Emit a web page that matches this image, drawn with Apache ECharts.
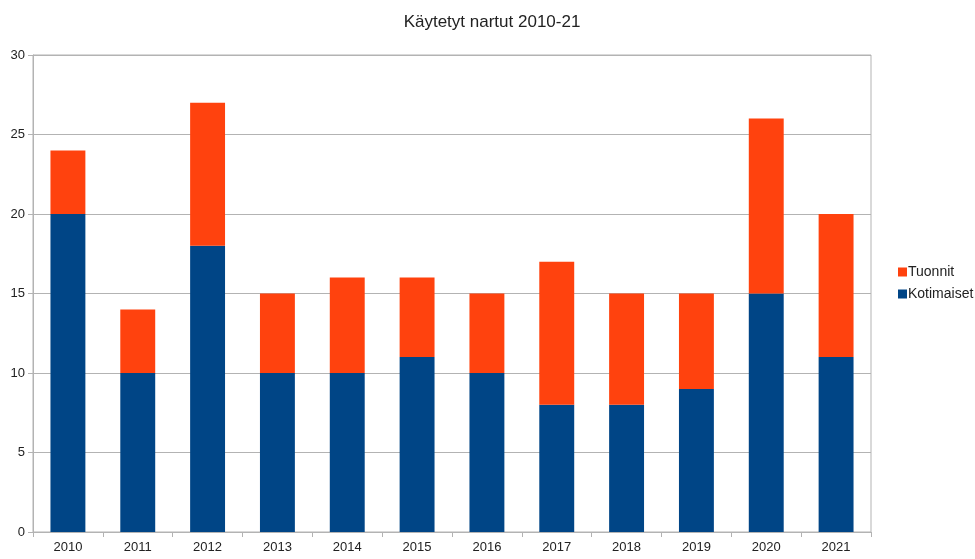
<!DOCTYPE html>
<html><head><meta charset="utf-8">
<script src="https://cdn.jsdelivr.net/npm/echarts@6/dist/echarts.min.js"></script>
<style>html,body{margin:0;padding:0;background:#fff}#c{width:975px;height:559px}</style>
</head><body><div id="c"></div>
<script>
const years = ['2010','2011','2012','2013','2014','2015','2016','2017','2018','2019','2020','2021'];
const kotimaiset = [20,10,18,10,10,11,10,8,8,9,15,11];
const tuonnit = [4,4,9,5,6,5,5,9,7,6,11,9];
const chart = echarts.init(document.getElementById('c'), null, {renderer:'canvas'});
const font = 'Liberation Sans';
chart.setOption({
  animation:false,
  backgroundColor:'#fff',
  title:{text:'Käytetyt nartut 2010-21',left:487,top:9,textAlign:'center',
    textStyle:{fontFamily:font,fontSize:17,fontWeight:'normal',color:'#222'}},
  grid:{left:33,right:104,top:55,bottom:27,show:true,borderColor:'#b3b3b3',borderWidth:1,containLabel:false},
  legend:{orient:'vertical',left:893,top:260,itemWidth:9,itemHeight:9,itemGap:8,icon:'rect',
    data:['Tuonnit','Kotimaiset'],
    textStyle:{fontFamily:font,fontSize:14,color:'#222',padding:[0,0,0,-4]}},
  xAxis:{type:'category',data:years,
    axisLine:{lineStyle:{color:'#b3b3b3'}},
    axisTick:{show:true,length:5,lineStyle:{color:'#b3b3b3'}},
    axisLabel:{fontFamily:font,fontSize:13,color:'#222',margin:9}},
  yAxis:{type:'value',min:0,max:30,interval:5,
    axisLine:{show:true,lineStyle:{color:'#b3b3b3'}},
    axisTick:{show:true,length:5,lineStyle:{color:'#b3b3b3'}},
    splitLine:{lineStyle:{color:'#b3b3b3'}},
    axisLabel:{fontFamily:font,fontSize:13,color:'#222',margin:8}},
  series:[
    {name:'Kotimaiset',type:'bar',stack:'a',data:kotimaiset,barWidth:'50%',itemStyle:{color:'#004586'}},
    {name:'Tuonnit',type:'bar',stack:'a',data:tuonnit,barWidth:'50%',itemStyle:{color:'#ff420e'}}
  ]
});
</script></body></html>
